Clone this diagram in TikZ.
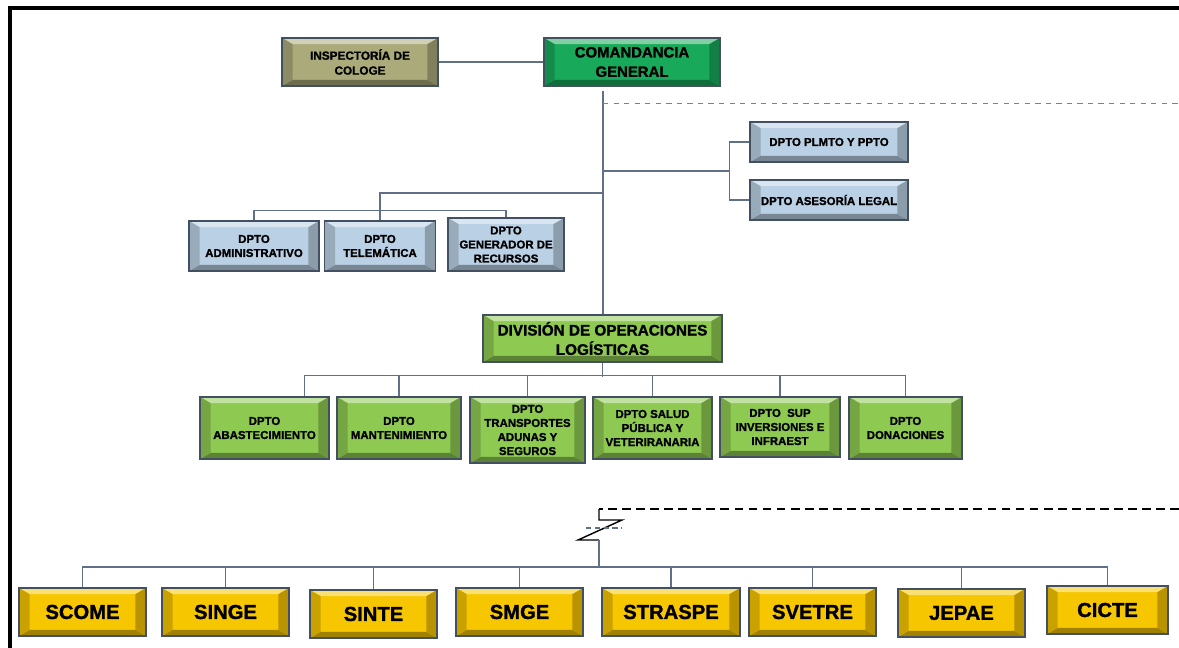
\documentclass[tikz,border=0pt]{standalone}
\usepackage{fontspec}
\setmainfont{Liberation Sans}[BoldFeatures={FakeBold=1.3}]
\usepackage{tikz}
\usetikzlibrary{calc, positioning}
\definecolor{khaki}{RGB}{170,170,122}
\definecolor{deepgreen}{RGB}{24,170,90}
\definecolor{paleblue}{RGB}{186,208,228}
\definecolor{limegreen}{RGB}{142,202,82}
\definecolor{gold}{RGB}{246,198,0}
\definecolor{edgegray}{RGB}{66,80,98}
\definecolor{linkgray}{RGB}{96,112,136}
\newcommand{\ppbb}{path picture bounding box}
\newcommand{\bevx}{6pt}
\newcommand{\bevy}{3.5pt}
\tikzset{
  orgbox/.style={draw=edgegray, line width=0.7pt, fill=#1, align=center, inner sep=1pt,
    font=\bfseries\fontsize{6.5}{8}\selectfont,
    path picture={
      \fill[#1!55!white] (\ppbb.north west) -- (\ppbb.north east) -- ([shift={(-\bevx,-\bevy)}]\ppbb.north east) -- ([shift={(\bevx,-\bevy)}]\ppbb.north west) -- cycle;
      \fill[#1!65!black] (\ppbb.south west) -- (\ppbb.south east) -- ([shift={(-\bevx,\bevy)}]\ppbb.south east) -- ([shift={(\bevx,\bevy)}]\ppbb.south west) -- cycle;
      \fill[#1!82!black] (\ppbb.north west) -- ([shift={(\bevx,-\bevy)}]\ppbb.north west) -- ([shift={(\bevx,\bevy)}]\ppbb.south west) -- (\ppbb.south west) -- cycle;
      \fill[#1!75!black] (\ppbb.north east) -- ([shift={(-\bevx,-\bevy)}]\ppbb.north east) -- ([shift={(-\bevx,\bevy)}]\ppbb.south east) -- (\ppbb.south east) -- cycle;
    }},
  sz/.style 2 args={minimum width=#1, minimum height=#2},
  link/.style={draw=linkgray, line width=0.8pt},
  bigtxt/.style={font=\bfseries\fontsize{11.5}{13}\selectfont},
}

\begin{document}
\begin{tikzpicture}[x=0.02cm, y=-0.02cm]
  \useasboundingbox (0,0) rectangle (1179,648);
  \draw[line width=2.2pt] (10,648) -- (10,8) -- (1179,8);

  % top level
  \node[orgbox=khaki, sz={3.12cm}{0.96cm}, font=\bfseries\fontsize{6.7}{8.5}\selectfont] (insp) at (360,62) {INSPECTORÍA DE\\COLOGE};
  \node[orgbox=deepgreen, sz={3.52cm}{0.96cm}, font=\bfseries\fontsize{8.5}{11}\selectfont] (coman) at (632,62) {COMANDANCIA\\GENERAL};
  \node[orgbox=paleblue, sz={3.16cm}{0.8cm}] (plmto) at (829,142) {DPTO PLMTO Y PPTO};
  \node[orgbox=paleblue, sz={3.16cm}{0.8cm}] (ases) at (829,200) {DPTO ASESORÍA LEGAL};
  \node[orgbox=paleblue, sz={2.6cm}{1.0cm}] (admin) at (254,246) {DPTO\\ADMINISTRATIVO};
  \node[orgbox=paleblue, sz={2.22cm}{1.0cm}] (telem) at (380,246) {DPTO\\TELEMÁTICA};
  \node[orgbox=paleblue, sz={2.32cm}{1.06cm}] (gener) at (506,244.5) {DPTO\\GENERADOR DE\\RECURSOS};
  \node[orgbox=limegreen, sz={4.78cm}{0.94cm}, font=\bfseries\fontsize{8.7}{11}\selectfont] (divop) at (602.5,338.5) {DIVISIÓN DE OPERACIONES\\LOGÍSTICAS};

  % departamentos de la division
  \node[orgbox=limegreen, sz={2.58cm}{1.24cm}] (abast) at (264.5,428) {DPTO\\ABASTECIMIENTO};
  \node[orgbox=limegreen, sz={2.48cm}{1.24cm}] (mant) at (399,428) {DPTO\\MANTENIMIENTO};
  \node[orgbox=limegreen, sz={2.3cm}{1.32cm}] (transp) at (527.5,430) {DPTO\\TRANSPORTES\\ADUNAS Y\\SEGUROS};
  \node[orgbox=limegreen, sz={2.38cm}{1.24cm}] (salud) at (652.5,428) {DPTO SALUD\\PÚBLICA Y\\VETERIRANARIA};
  \node[orgbox=limegreen, sz={2.4cm}{1.2cm}] (sup) at (780,427) {DPTO~~SUP\\INVERSIONES E\\INFRAEST};
  \node[orgbox=limegreen, sz={2.26cm}{1.24cm}] (donac) at (905.5,428) {DPTO\\DONACIONES};

  % subordinados
  \node[orgbox=gold, bigtxt, sz={2.54cm}{0.96cm}] (scome) at (82.5,612) {SCOME};
  \node[orgbox=gold, bigtxt, sz={2.54cm}{0.96cm}] (singe) at (225.5,612) {SINGE};
  \node[orgbox=gold, bigtxt, sz={2.54cm}{0.96cm}] (sinte) at (373.5,614) {SINTE};
  \node[orgbox=gold, bigtxt, sz={2.54cm}{0.96cm}] (smge) at (519.5,612) {SMGE};
  \node[orgbox=gold, bigtxt, sz={2.76cm}{0.96cm}] (straspe) at (671,612) {STRASPE};
  \node[orgbox=gold, bigtxt, sz={2.54cm}{0.96cm}] (svetre) at (812.5,612) {SVETRE};
  \node[orgbox=gold, bigtxt, sz={2.54cm}{0.96cm}] (jepae) at (961.5,613) {JEPAE};
  \node[orgbox=gold, bigtxt, sz={2.42cm}{0.96cm}] (cicte) at (1107.5,610) {CICTE};

  % conectores
  \coordinate (trunk) at ([xshift=-0.58cm, yshift=-0.08cm]coman.south);
  \coordinate (rb) at ($(plmto.west)!0.5!(ases.west)+(-20,0)$);
  \draw[link] (insp) -- (coman);
  \draw[link] (trunk) -- (trunk |- divop.north);
  \draw[link] (trunk |- rb) -- (rb);
  \draw[link] (plmto.west) -| (rb) |- (ases.west);
  \draw[link] (trunk |- 0,193) -| (telem.north);
  \draw[link] (admin.north) -- ++(0,-10) -| (gener.north);
  \draw[link] (divop.south) -- ++(0,14);
  \draw[link] ([xshift=0.8cm]abast.north) -- ++(0,-21) -| (donac.north);
  \foreach \n in {mant,transp,salud,sup}
    \draw[link] (\n.north) -- ++(0,-21);
  \draw[link] (scome.north) -- (scome.north |- 0,567) -- (cicte.north |- 0,567) -- (cicte.north);
  \foreach \n in {singe,sinte,smge,straspe,svetre,jepae}
    \draw[link] (\n.north) -- (\n.north |- 0,567);

  % lineas punteadas y corte
  \draw[gray, dashed, line width=0.5pt] (trunk |- 0,103) -- (1179,103);
  \draw[line width=1pt, dash pattern=on 5pt off 3pt] (1179,509) -- (599,509);
  \draw[line width=0.8pt] (599,509) -- (599,520) -- (622,520) -- (578,540) -- (599,540);
  \draw[link] (599,540) -- (599,567);
  \draw[linkgray, line width=0.8pt, dash pattern=on 3pt off 2pt] (586,528) -- (622,528);
\end{tikzpicture}
\end{document}
